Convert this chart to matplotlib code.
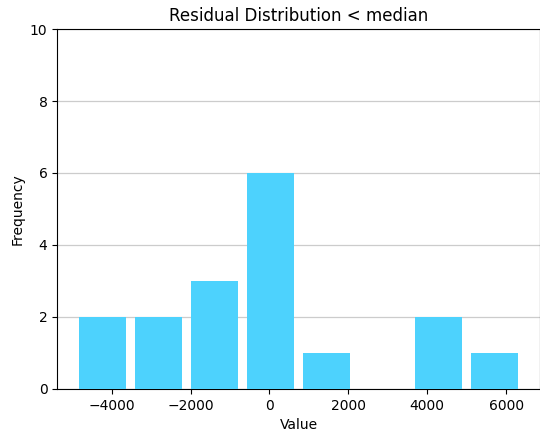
import numpy as np
import matplotlib
matplotlib.use("Agg")
import matplotlib.pyplot as plt

# bin edges and counts
bin_edges = [-4938, -3518, -2098, -678, 742, 2162, 3582, 5002, 6422]
counts = [2, 2, 3, 6, 1, 0, 2, 1]

centers = [(a + b) / 2 for a, b in zip(bin_edges[:-1], bin_edges[1:])]

fig = plt.figure(figsize=(5.4, 4.34), dpi=100)
ax = fig.add_axes([0.106, 0.104, 0.8945, 0.829])

ax.hist(centers, bins=bin_edges, weights=counts, rwidth=0.84,
        color="#4dd2fd", zorder=3)
ax.grid(axis="y", color="#cccccc", linewidth=0.9, zorder=0)
ax.set_ylim(0, 10)
ax.set_yticks([0, 2, 4, 6, 8, 10])
ax.set_xticks([-4000, -2000, 0, 2000, 4000, 6000])
ax.set_title("Residual Distribution < median")
ax.set_xlabel("Value")
ax.set_ylabel("Frequency")

fig.savefig("out.png", dpi=100)
